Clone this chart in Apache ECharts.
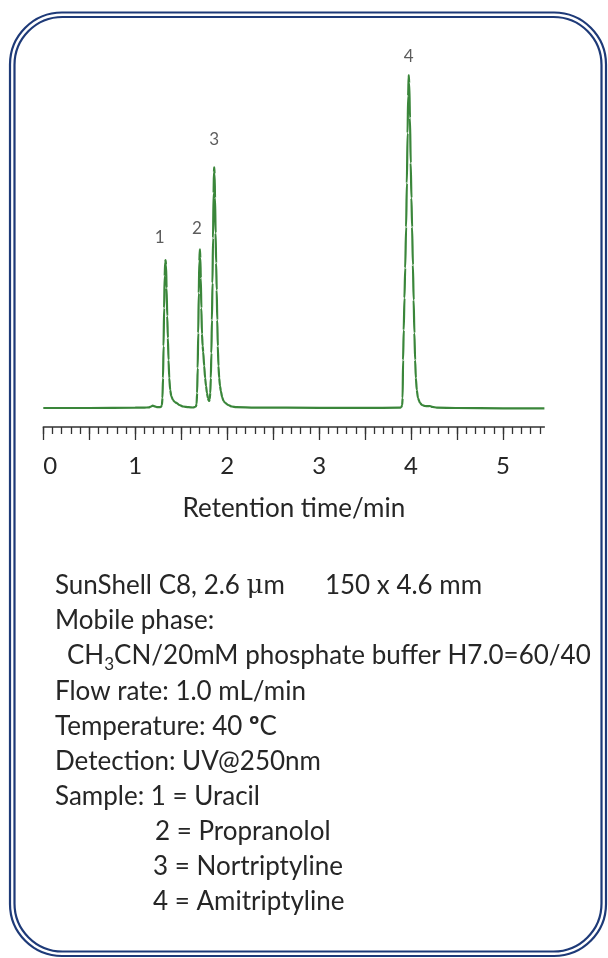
<!DOCTYPE html>
<html>
<head>
<meta charset="utf-8">
<script src="https://cdn.jsdelivr.net/npm/echarts@6/dist/echarts.min.js"></script>
<style>
  html, body { margin: 0; padding: 0; background: #ffffff; }
  #chart { width: 608px; height: 958px; }
</style>
</head>
<body>
<div id="chart"></div>
<script>
// Chromatogram trace: retention time (min) and detector signal (arbitrary units)
const traceTime = [
  0.00, 0.50, 1.00, 1.10, 1.148, 1.17, 1.19, 1.213, 1.235, 1.26, 1.280,
  1.290, 1.296, 1.302, 1.308, 1.314, 1.320, 1.326, 1.330, 1.335, 1.341, 1.348,
  1.355, 1.362, 1.370, 1.380, 1.392, 1.410, 1.430, 1.450, 1.480, 1.520, 1.580,
  1.630, 1.660, 1.667, 1.673, 1.679, 1.685, 1.691, 1.697, 1.703, 1.708, 1.713,
  1.719, 1.726, 1.733, 1.739, 1.750, 1.760, 1.770, 1.780, 1.790, 1.798, 1.804,
  1.810, 1.816, 1.822, 1.828, 1.834, 1.840, 1.846, 1.852, 1.856, 1.859, 1.863,
  1.868, 1.874, 1.880, 1.886, 1.892, 1.898, 1.905, 1.913, 1.922, 1.931, 1.945,
  1.960, 1.980, 2.011, 2.050, 2.100, 2.300, 3.000, 3.500, 3.880, 3.895, 3.903,
  3.908, 3.913, 3.920, 3.928, 3.936, 3.946, 3.954, 3.962, 3.968, 3.974, 3.980,
  3.988, 3.996, 4.004, 4.011, 4.020, 4.028, 4.036, 4.044, 4.052, 4.062, 4.075,
  4.097, 4.120, 4.150, 4.180, 4.206, 4.230, 4.280, 4.500, 5.000, 5.450
];
const traceSignal = [
  0.0, 0.0, 0.3, 0.4, 0.6, 1.5, 2.4, 1.6, 0.9, 0.9, 1.0,
  3, 10, 30, 62, 100, 132, 146, 148, 143, 120, 92,
  70, 48, 30, 18, 12, 8, 6, 5, 3, 1.5, 0.8,
  0.5, 1.5, 4, 15, 40, 75, 115, 147, 158.7, 150, 130,
  100, 74, 62, 56, 42, 30, 22, 15, 10, 7.5, 7,
  9, 15, 30, 55, 88, 125, 170, 215, 236, 240.7, 234,
  210, 175, 145, 118, 88, 62, 42, 30, 22, 17, 11,
  7, 5, 3, 1.5, 0.8, 0.4, 0.2, 0.1, 0.3, 1, 3,
  10, 48, 78, 110, 140, 181, 225, 275, 312, 333, 325,
  290, 245, 210, 181, 143, 108, 75, 48, 30, 18, 10,
  5, 3, 2, 1.8, 2, 1.2, 0.3, 0.0, -0.3, -0.3
];

// Peak apexes and their numbers
const peakNames = ['1', '2', '3', '4'];
const peakTime = [1.330, 1.703, 1.859, 3.974];
const peakSignal = [148, 158.7, 240.7, 333];

// Axis labels and tick positions (minutes)
const axisLabelValues = [0, 1, 2, 3, 4, 5];
const majorTickValues = [0, 0.5, 1, 1.5, 2, 2.5, 3, 3.5, 4, 4.5, 5];
const minorTickValues = [];
for (let i = 0; i <= 54; i++) minorTickValues.push(+(i / 10).toFixed(1));

// Method conditions printed below the chart
const conditionLines = [
  'SunShell C8, 2.6 {m|\u03BC}m{g| }150 x 4.6 mm',
  'Mobile phase:',
  '{t|CH}{s|3}{t|CN/20mM phosphate buffer H7.0=60/40}',
  'Flow rate: 1.0 mL/min',
  'Temperature: 40 {b|\u00BA}C',
  'Detection: UV@250nm',
  'Sample: 1 = Uracil',
  '2 = Propranolol',
  '3 = Nortriptyline',
  '4 = Amitriptyline'
];

const FONT = 'Lato, "Open Sans", sans-serif';
const TEXT_COLOR = '#262626';
const LINE_COLOR = '#3a863a';
const FRAME_COLOR = '#1e3a78';
const TEXT_SIZE = 26;

// layout of the condition text block
const textX = [55, 55, 67, 55, 55, 55, 55, 155, 153, 153];
const textY0 = 586, textStep = 35.1;

const chart = echarts.init(document.getElementById('chart'), null, { renderer: 'canvas' });

const traceData = traceTime.map((t, i) => [t, traceSignal[i]]);
const peakData = peakTime.map((t, i) => ({ value: [t, peakSignal[i]], name: peakNames[i] }));
const peakLabelOffset = [[-6, -4], [-3, -2], [0, -9], [0, 0]];

const textGraphics = conditionLines.map((line, i) => ({
  type: 'text',
  x: textX[i],
  y: textY0 + i * textStep,
  style: {
    text: line,
    font: TEXT_SIZE + 'px ' + FONT,
    fill: TEXT_COLOR,
    align: 'left',
    verticalAlign: 'middle',
    rich: {
      t: { fontSize: TEXT_SIZE, fontFamily: FONT, fill: TEXT_COLOR, lineHeight: 28, verticalAlign: 'top' },
      s: { fontSize: 17, fontFamily: FONT, fill: TEXT_COLOR, lineHeight: 17, verticalAlign: 'top', padding: [14, 0, 0, 0] },
      b: { fontSize: TEXT_SIZE, fontFamily: FONT, fontWeight: 'bold', fill: TEXT_COLOR },
      m: { fontSize: TEXT_SIZE, fontFamily: '"DejaVu Serif", serif', fill: TEXT_COLOR },
      g: { fontSize: TEXT_SIZE, fontFamily: FONT, width: 40 }
    }
  }
}));

const option = {
  backgroundColor: '#ffffff',
  animation: false,
  grid: { left: 43.3, right: 63.6, top: 48, bottom: 531, containLabel: false },
  xAxis: [
    {
      type: 'value', min: 0, max: 5.45,
      axisLine: { show: true, onZero: false, lineStyle: { color: '#333333', width: 1.5 } },
      axisTick: { show: true, customValues: minorTickValues, length: 7, lineStyle: { color: '#333333', width: 1.3 } },
      axisLabel: {
        show: true, customValues: axisLabelValues, margin: 27, alignMinLabel: 'left',
        fontFamily: FONT, fontSize: 24, color: TEXT_COLOR
      },
      splitLine: { show: false },
      name: 'Retention time/min', nameLocation: 'middle', nameGap: 69,
      nameTextStyle: { fontFamily: FONT, fontSize: 26, color: TEXT_COLOR }
    },
    {
      type: 'value', min: 0, max: 5.45, position: 'bottom',
      axisLine: { show: false, onZero: false },
      axisTick: { show: true, customValues: majorTickValues, length: 13, lineStyle: { color: '#333333', width: 1.3 } },
      axisLabel: { show: false },
      splitLine: { show: false }
    }
  ],
  yAxis: {
    type: 'value', min: -19, max: 360, show: false, splitLine: { show: false }
  },
  series: [
    {
      type: 'line', name: 'signal', data: traceData,
      showSymbol: false, smooth: 0.25, smoothMonotone: 'x',
      lineStyle: { color: LINE_COLOR, width: 2.2 },
      z: 3
    },
    {
      type: 'scatter', name: 'peaks', data: peakData,
      symbolSize: 0,
      label: {
        show: true, position: 'top', distance: 10,
        formatter: p => p.name,
        fontFamily: FONT, fontSize: 17, color: '#333333'
      },
      z: 4
    }
  ],
  graphic: [
    { type: 'rect', shape: { x: 10, y: 12.5, width: 596, height: 943.5, r: 52 },
      style: { fill: 'none', stroke: FRAME_COLOR, lineWidth: 2.2 }, silent: true },
    { type: 'rect', shape: { x: 14.5, y: 17, width: 587, height: 934.5, r: 48 },
      style: { fill: 'none', stroke: FRAME_COLOR, lineWidth: 2.2 }, silent: true }
  ].concat(textGraphics)
};

// per-peak nudges for the number labels
option.series[1].data.forEach((d, i) => {
  d.label = { offset: peakLabelOffset[i] };
});

chart.setOption(option);
</script>
</body>
</html>
